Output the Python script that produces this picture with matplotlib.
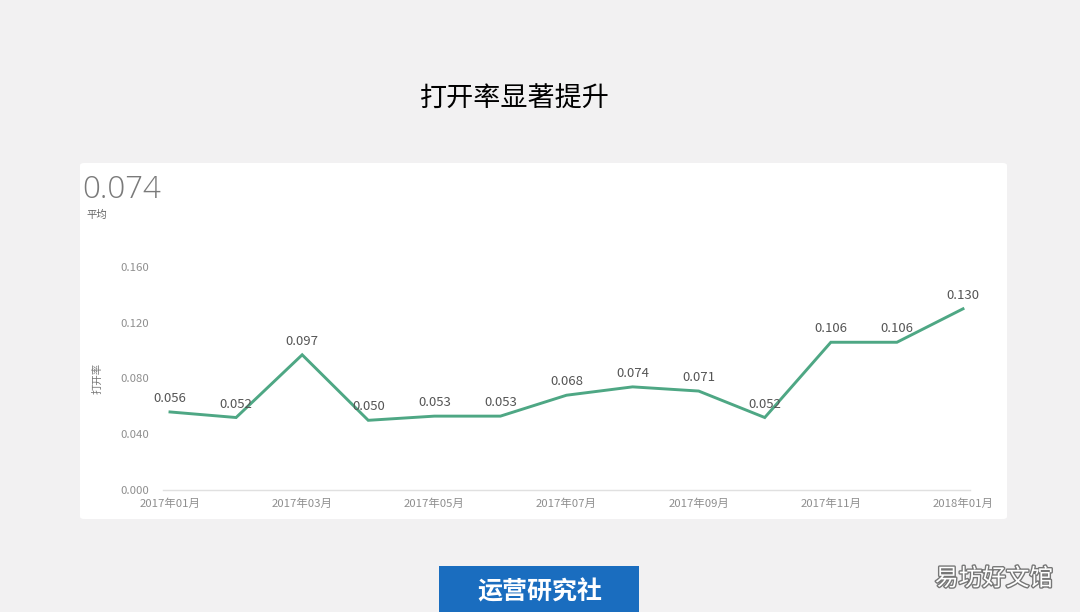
import matplotlib
matplotlib.use("Agg")
import matplotlib.pyplot as plt
from matplotlib.patches import FancyBboxPatch, Rectangle
import matplotlib.patheffects as pe

plt.rcParams['font.family'] = ['Noto Sans CJK SC', 'DejaVu Sans']

months = ["2017年01月", "2017年02月", "2017年03月", "2017年04月", "2017年05月", "2017年06月",
          "2017年07月", "2017年08月", "2017年09月", "2017年10月", "2017年11月", "2017年12月",
          "2018年01月"]
open_rate = [0.056, 0.052, 0.097, 0.050, 0.053, 0.053, 0.068, 0.074, 0.071, 0.052, 0.106, 0.106, 0.130]
y_ticks = [0.000, 0.040, 0.080, 0.120, 0.160]
average_text = "0.074"

W, H = 1080, 612
fig = plt.figure(figsize=(W / 100, H / 100), dpi=100)
fig.patch.set_facecolor('#f2f1f2')

def fx(x): return x / W
def fy(y): return 1 - y / H

# white panel
panel = FancyBboxPatch((fx(80), fy(519)), fx(1007) - fx(80), fy(163) - fy(519),
                       boxstyle="round,pad=0,rounding_size=0.004", transform=fig.transFigure,
                       facecolor='white', edgecolor='none', zorder=-10)
fig.patches.append(panel)

# title
fig.text(fx(515), fy(99), "打开率显著提升", ha='center', va='center', fontsize=19.5, color='#000000')

# average
fig.text(fx(82), fy(190), average_text, ha='left', va='center', fontsize=22.5, color='#7a7a7a',
         family=['Open Sans', 'DejaVu Sans'], fontweight='light')
fig.text(fx(86), fy(215), "平均", ha='left', va='center', fontsize=7.5, color='#666666')

# axes
ax = fig.add_axes([fx(163), fy(490), fx(970) - fx(163), fy(267) - fy(490)], zorder=5)
ax.set_facecolor('none')
x = list(range(len(months)))
ax.plot(x, open_rate, color='#4ea784', lw=2.1, solid_joinstyle='miter', zorder=3)
ax.set_xlim(-0.106, len(months) - 1 + 0.106)
ax.set_ylim(0, 0.16)
ax.set_yticks(y_ticks)
ax.set_yticklabels([f"{v:.3f}" for v in y_ticks])
ax.set_xticks(x[::2])
ax.set_xticklabels(months[::2])
for s in ['top', 'right', 'left']:
    ax.spines[s].set_visible(False)
ax.spines['bottom'].set_color('#e0e0e0')
ax.spines['bottom'].set_linewidth(1)
ax.tick_params(axis='both', length=0, colors='#8f8f8f', labelsize=8.2)
ax.tick_params(axis='y', pad=10)
ax.tick_params(axis='x', pad=6)
ax.set_ylabel("打开率", fontsize=7.5, color='#777777', labelpad=13)

for xi, v in zip(x, open_rate):
    ax.annotate(f"{v:.3f}", (xi, v), xytext=(0, 5), textcoords='offset points',
                ha='center', va='bottom', fontsize=9.5, color='#555555', zorder=4)

# blue button
btn = Rectangle((fx(439), fy(612)), fx(639) - fx(439), fy(566) - fy(612), transform=fig.transFigure,
                facecolor='#1a6dbf', edgecolor='none')
fig.patches.append(btn)
fig.text(fx(540), fy(592), "运营研究社", ha='center', va='center', fontsize=18, color='white',
         fontweight='bold')

# watermark
fig.text(fx(994), fy(579), "易坊好文馆", ha='center', va='center', fontsize=17, color='white',
         path_effects=[pe.withStroke(linewidth=2, foreground='#777777')])

fig.savefig("out.png", dpi=100, facecolor=fig.get_facecolor())
